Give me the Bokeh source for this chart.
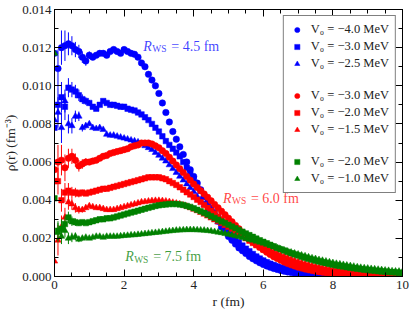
import numpy as np
from bokeh.plotting import figure
from bokeh.models import (ColumnDataSource, Range1d, LinearAxis, FixedTicker,
                          PrintfTickFormatter, CustomJSTickFormatter, Legend, LegendItem, Label)
from bokeh.embed import file_html
from bokeh.resources import INLINE

# radial grid (fm)
r_fm = [i / 10 for i in range(101)]

# densities, in units of 1e-3 fm^-3 (r = 0.0 ... 10.0 step 0.1)
rho_b40 = [11.7, 10.9, 12.0, 12.1, 12.2, 12.1, 11.9, 11.8, 11.5, 11.3,
           11.6, 11.5, 11.6, 11.7, 11.7, 11.6, 11.8, 11.9, 11.8, 11.7,
           11.9, 11.8, 11.7, 11.65, 11.5, 11.2, 11.0, 10.6, 10.3, 10.0,
           9.6, 9.1, 8.6, 8.1, 7.6, 7.2, 6.8, 6.4, 6.0, 5.6,
           5.25, 4.9, 4.55, 4.2, 3.85, 3.5, 3.2, 2.9, 2.6, 2.35,
           2.1, 1.9, 1.7, 1.5, 1.35, 1.2, 1.05, 0.93, 0.82, 0.72,
           0.63, 0.55, 0.48, 0.42, 0.37, 0.32, 0.28, 0.24, 0.21, 0.18,
           0.16, 0.14, 0.12, 0.10, 0.09, 0.08, 0.07, 0.06, 0.05, 0.045,
           0.04, 0.035, 0.03, 0.027, 0.024, 0.021, 0.019, 0.017, 0.015, 0.013,
           0.012, 0.011, 0.010, 0.009, 0.008, 0.007, 0.007, 0.006, 0.006, 0.005, 0.005]
rho_b30 = [7.8, 9.0, 9.4, 8.9, 9.9, 9.8, 9.7, 9.5, 9.3, 9.2,
           9.1, 8.9, 8.8, 9.0, 9.2, 9.1, 9.0, 9.0, 8.95, 8.9,
           8.9, 8.8, 8.75, 8.7, 8.6, 8.5, 8.35, 8.2, 8.0, 7.8,
           7.6, 7.35, 7.1, 6.9, 6.7, 6.5, 6.3, 6.0, 5.7, 5.4,
           5.1, 4.8, 4.5, 4.2, 3.9, 3.6, 3.35, 3.1, 2.85, 2.6,
           2.4, 2.2, 2.0, 1.8, 1.62, 1.46, 1.32, 1.18, 1.05, 0.94,
           0.84, 0.75, 0.67, 0.6, 0.53, 0.47, 0.42, 0.37, 0.33, 0.29,
           0.26, 0.23, 0.2, 0.18, 0.16, 0.14, 0.12, 0.11, 0.095, 0.085,
           0.075, 0.066, 0.058, 0.051, 0.045, 0.04, 0.035, 0.031, 0.027, 0.024,
           0.021, 0.019, 0.017, 0.015, 0.013, 0.012, 0.011, 0.010, 0.009, 0.008, 0.007]
rho_b25 = [8.2, 8.6, 7.8, 9.2, 8.0, 7.9, 8.4, 8.4, 7.8, 7.9,
           8.0, 7.8, 7.75, 7.8, 7.7, 7.45, 7.4, 7.4, 7.35, 7.3,
           7.25, 7.2, 7.15, 7.1, 7.05, 6.95, 6.85, 6.75, 6.65, 6.5,
           6.35, 6.2, 6.05, 5.85, 5.65, 5.45, 5.25, 5.05, 4.85, 4.65,
           4.45, 4.2, 4.0, 3.75, 3.5, 3.3, 3.05, 2.85, 2.6, 2.4,
           2.2, 2.0, 1.85, 1.68, 1.52, 1.38, 1.25, 1.12, 1.0, 0.9,
           0.8, 0.72, 0.64, 0.57, 0.51, 0.45, 0.4, 0.36, 0.32, 0.28,
           0.25, 0.22, 0.2, 0.18, 0.16, 0.14, 0.125, 0.11, 0.1, 0.09,
           0.08, 0.07, 0.063, 0.056, 0.05, 0.044, 0.039, 0.035, 0.031, 0.028,
           0.025, 0.022, 0.02, 0.018, 0.016, 0.014, 0.013, 0.012, 0.011, 0.010, 0.009]
rho_r30 = [5.6, 6.0, 6.1, 5.7, 6.2, 6.3, 6.1, 5.8, 5.9, 6.0,
           6.0, 6.05, 6.1, 6.2, 6.3, 6.35, 6.45, 6.5, 6.55, 6.6,
           6.65, 6.7, 6.8, 6.85, 6.9, 7.0, 7.0, 7.0, 6.95, 6.85,
           6.75, 6.6, 6.45, 6.25, 6.05, 5.85, 5.65, 5.45, 5.25, 5.05,
           4.85, 4.67, 4.5, 4.33, 4.15, 3.97, 3.78, 3.6, 3.42, 3.24,
           3.05, 2.87, 2.68, 2.5, 2.32, 2.15, 1.98, 1.82, 1.67, 1.53,
           1.4, 1.27, 1.15, 1.04, 0.94, 0.85, 0.76, 0.68, 0.61, 0.55,
           0.49, 0.44, 0.39, 0.35, 0.31, 0.28, 0.25, 0.22, 0.2, 0.18,
           0.16, 0.14, 0.125, 0.11, 0.1, 0.09, 0.08, 0.072, 0.065, 0.058,
           0.052, 0.047, 0.042, 0.038, 0.034, 0.031, 0.028, 0.025, 0.023, 0.021, 0.019]
rho_r20 = [5.0, 5.0, 4.0, 4.4, 4.5, 4.4, 4.4, 4.35, 4.4, 4.35,
           4.4, 4.45, 4.5, 4.55, 4.6, 4.6, 4.65, 4.7, 4.75, 4.8,
           4.85, 4.9, 4.95, 5.0, 5.05, 5.1, 5.15, 5.2, 5.2, 5.2,
           5.2, 5.15, 5.1, 5.0, 4.9, 4.8, 4.68, 4.55, 4.42, 4.3,
           4.17, 4.03, 3.9, 3.75, 3.6, 3.45, 3.3, 3.15, 3.0, 2.85,
           2.7, 2.56, 2.42, 2.28, 2.14, 2.01, 1.88, 1.76, 1.64, 1.53,
           1.42, 1.32, 1.22, 1.13, 1.04, 0.96, 0.88, 0.81, 0.74, 0.68,
           0.62, 0.57, 0.52, 0.47, 0.43, 0.39, 0.36, 0.33, 0.3, 0.27,
           0.25, 0.23, 0.21, 0.19, 0.17, 0.155, 0.14, 0.13, 0.12, 0.11,
           0.1, 0.09, 0.082, 0.075, 0.068, 0.062, 0.056, 0.051, 0.046, 0.042, 0.038]
rho_r15 = [0.8, 1.9, 2.6, 3.1, 3.9, 3.8, 3.6, 3.5, 3.5, 3.6,
           3.7, 3.65, 3.6, 3.6, 3.55, 3.5, 3.5, 3.5, 3.55, 3.6,
           3.65, 3.7, 3.75, 3.8, 3.85, 3.9, 3.92, 3.95, 3.97, 3.98,
           3.98, 3.97, 3.95, 3.92, 3.88, 3.84, 3.8, 3.74, 3.68, 3.6,
           3.52, 3.44, 3.35, 3.26, 3.16, 3.06, 2.96, 2.86, 2.76, 2.66,
           2.56, 2.46, 2.36, 2.26, 2.16, 2.06, 1.96, 1.86, 1.76, 1.66,
           1.57, 1.48, 1.39, 1.3, 1.22, 1.14, 1.06, 0.99, 0.92, 0.85,
           0.79, 0.73, 0.68, 0.63, 0.58, 0.54, 0.5, 0.46, 0.42, 0.39,
           0.36, 0.33, 0.3, 0.28, 0.26, 0.24, 0.22, 0.2, 0.18, 0.17,
           0.155, 0.14, 0.13, 0.12, 0.11, 0.1, 0.092, 0.085, 0.078, 0.072, 0.066]
rho_g20 = [4.1, 2.4, 2.5, 2.75, 3.1, 2.9, 2.85, 2.8, 2.85, 2.8,
           2.85, 2.9, 2.95, 3.0, 3.0, 3.05, 3.05, 3.1, 3.15, 3.2,
           3.25, 3.3, 3.35, 3.4, 3.45, 3.5, 3.55, 3.6, 3.65, 3.7,
           3.73, 3.76, 3.78, 3.8, 3.8, 3.8, 3.78, 3.75, 3.7, 3.65,
           3.58, 3.5, 3.42, 3.34, 3.25, 3.16, 3.07, 2.98, 2.89, 2.8,
           2.71, 2.62, 2.53, 2.44, 2.35, 2.26, 2.17, 2.08, 1.99, 1.9,
           1.82, 1.74, 1.66, 1.58, 1.5, 1.43, 1.36, 1.29, 1.22, 1.16,
           1.1, 1.04, 0.98, 0.93, 0.88, 0.83, 0.78, 0.74, 0.7, 0.66,
           0.62, 0.58, 0.55, 0.52, 0.49, 0.46, 0.43, 0.41, 0.38, 0.36,
           0.34, 0.32, 0.3, 0.28, 0.26, 0.25, 0.23, 0.22, 0.21, 0.19, 0.18]
rho_g10 = [11.7, 2.3, 2.1, 2.4, 2.0, 2.05, 2.1, 1.95, 2.0, 2.05,
           2.0, 2.05, 2.1, 2.1, 2.05, 2.1, 2.1, 2.1, 2.1, 2.12,
           2.14, 2.15, 2.17, 2.18, 2.2, 2.22, 2.24, 2.26, 2.28, 2.3,
           2.32, 2.34, 2.36, 2.38, 2.4, 2.42, 2.43, 2.44, 2.45, 2.45,
           2.45, 2.44, 2.43, 2.42, 2.4, 2.38, 2.35, 2.32, 2.29, 2.25,
           2.21, 2.17, 2.13, 2.09, 2.04, 1.99, 1.94, 1.89, 1.84, 1.79,
           1.74, 1.68, 1.62, 1.56, 1.5, 1.44, 1.38, 1.32, 1.27, 1.22,
           1.17, 1.12, 1.07, 1.02, 0.97, 0.93, 0.88, 0.84, 0.8, 0.76,
           0.72, 0.68, 0.65, 0.62, 0.59, 0.56, 0.53, 0.5, 0.47, 0.45,
           0.43, 0.41, 0.39, 0.37, 0.35, 0.33, 0.31, 0.29, 0.28, 0.27, 0.25]

# statistical errors of the first points (same units); later points have negligible error
err_b40 = [2.0, 1.0, 0.9, 0.8, 0.6, 0.5, 0.4, 0.35, 0.3, 0.25, 0.2, 0.15]
err_b30 = [1.2, 0.9, 0.8, 0.7, 0.5, 0.4, 0.35, 0.3, 0.25, 0.2, 0.15, 0.1]
err_b25 = [1.0, 0.8, 0.8, 0.6, 0.5, 0.4, 0.3, 0.25, 0.2, 0.15, 0.1, 0.1]
err_r30 = [2.5, 0.9, 0.8, 0.7, 0.5, 0.4, 0.35, 0.3, 0.25, 0.2, 0.15, 0.1]
err_r20 = [1.0, 0.7, 0.6, 0.5, 0.4, 0.3, 0.25, 0.2, 0.15, 0.12, 0.1, 0.08]
err_r15 = [7.5, 0.8, 0.6, 0.5, 0.4, 0.3, 0.25, 0.2, 0.15, 0.12, 0.1, 0.08]
err_g20 = [1.0, 0.5, 0.5, 0.4, 0.3, 0.25, 0.2, 0.15, 0.12, 0.1, 0.08, 0.06]
err_g10 = [12.0, 0.5, 0.4, 0.35, 0.3, 0.25, 0.2, 0.15, 0.12, 0.1, 0.08, 0.06]

labels = ["V₀ = −4.0 MeV", "V₀ = −3.0 MeV", "V₀ = −2.5 MeV",
          "V₀ = −3.0 MeV", "V₀ = −2.0 MeV", "V₀ = −1.5 MeV",
          "V₀ = −2.0 MeV", "V₀ = −1.0 MeV"]
ws_labels = ["4.5 fm", "6.0 fm", "7.5 fm"]
x_ticks = [0, 2, 4, 6, 8, 10]
x_minor = [0.5, 1, 1.5, 2.5, 3, 3.5, 4.5, 5, 5.5, 6.5, 7, 7.5, 8.5, 9, 9.5]
y_ticks = [0.000, 0.002, 0.004, 0.006, 0.008, 0.010, 0.012, 0.014]
y_minor = [0.001, 0.003, 0.005, 0.007, 0.009, 0.011, 0.013]

BLUE, RED, GREEN = "#0000ff", "#ff0000", "#008000"
SERIF = "Liberation Serif"

series = [
    (rho_b40, err_b40, BLUE, "circle", 6.5),
    (rho_b30, err_b30, BLUE, "square", 5.5),
    (rho_b25, err_b25, BLUE, "triangle", 6.5),
    (rho_r30, err_r30, RED, "circle", 6.5),
    (rho_r20, err_r20, RED, "square", 5.5),
    (rho_r15, err_r15, RED, "triangle", 6.5),
    (rho_g20, err_g20, GREEN, "square", 5.5),
    (rho_g10, err_g10, GREEN, "triangle", 6.5),
]

p = figure(width=412, height=311, output_backend="svg", toolbar_location=None,
           x_range=Range1d(0, 10), y_range=Range1d(0, 0.014),
           min_border_left=53, min_border_right=10, min_border_top=9, min_border_bottom=34)
p.grid.visible = False
p.outline_line_color = "black"
p.outline_line_width = 1
p.background_fill_color = "white"
p.border_fill_color = "white"

bottom = p.below[0]
left = p.left[0]

xt = FixedTicker(ticks=x_ticks, minor_ticks=x_minor)
yt = FixedTicker(ticks=y_ticks, minor_ticks=y_minor)
bottom.ticker = xt
left.ticker = yt
left.formatter = PrintfTickFormatter(format="%.3f")

blank_fmt = CustomJSTickFormatter(code="return ''")
top = LinearAxis(ticker=xt, formatter=blank_fmt)
right = LinearAxis(ticker=yt, formatter=blank_fmt)
p.add_layout(top, "above")
p.add_layout(right, "right")

for ax in [bottom, left, top, right]:
    ax.major_tick_in = 7
    ax.major_tick_out = 0
    ax.minor_tick_in = 4
    ax.minor_tick_out = 0
    ax.axis_line_color = "black"
    ax.major_tick_line_color = "black"
    ax.minor_tick_line_color = "black"
    ax.major_label_text_font = SERIF
    ax.major_label_text_font_size = "13px"
    ax.major_label_text_color = "#222222"
    ax.axis_label_text_font = SERIF
    ax.axis_label_text_font_size = "13.5px"
    ax.axis_label_text_font_style = "normal"
    ax.axis_label_text_color = "#222222"
for ax in [top, right]:
    ax.major_label_standoff = 0

bottom.axis_label = "r (fm)"
left.axis_label = "ρ(r) (fm⁻³)"
bottom.major_label_standoff = 4
bottom.axis_label_standoff = 2
left.major_label_standoff = 3
left.axis_label_standoff = 1

items = []
for i, (vals, errs, color, marker, size) in enumerate(series):
    y = np.array(vals) * 1e-3
    n = len(errs)
    e = np.array(errs) * 1e-3
    esrc = ColumnDataSource(dict(x=r_fm[:n], lo=y[:n] - e, hi=y[:n] + e))
    p.segment(x0="x", y0="lo", x1="x", y1="hi", source=esrc, line_color=color, line_width=1)
    src = ColumnDataSource(dict(x=r_fm, y=y))
    rend = p.scatter("x", "y", source=src, marker=marker, size=size,
                     fill_color=color, line_color=color, line_width=0.5)
    items.append(LegendItem(label=labels[i], renderers=[rend]))
    if i in (2, 5):
        blank = p.scatter(x=[], y=[], size=1, fill_alpha=0, line_alpha=0)
        items.append(LegendItem(label=" ", renderers=[blank]))

legend = Legend(items=items, location="top_right",
                label_text_font=SERIF, label_text_font_size="12.5px",
                label_text_color="#222222",
                glyph_width=14, glyph_height=13, label_height=13, spacing=2,
                padding=6, margin=6, label_standoff=7,
                border_line_color="black", border_line_width=1,
                background_fill_color="white", background_fill_alpha=1)
p.add_layout(legend)

# R_WS annotations
ann = [(2.55, 0.01207, BLUE, ws_labels[0]),
       (4.84, 0.0041, RED, ws_labels[1]),
       (2.03, 0.00104, GREEN, ws_labels[2])]
for (ax_, ay_, col, txt) in ann:
    common = dict(x=ax_, y=ay_, text_color=col, text_alpha=0.75, text_font=SERIF,
                  text_baseline="alphabetic")
    p.add_layout(Label(text="R", text_font_style="italic", text_font_size="14px", **common))
    p.add_layout(Label(text="WS", text_font_size="9.5px", x_offset=9, y_offset=-3, **common))
    p.add_layout(Label(text="= " + txt, text_font_size="14px", x_offset=28, **common))

open("out.html", "w").write(file_html(p, INLINE))
